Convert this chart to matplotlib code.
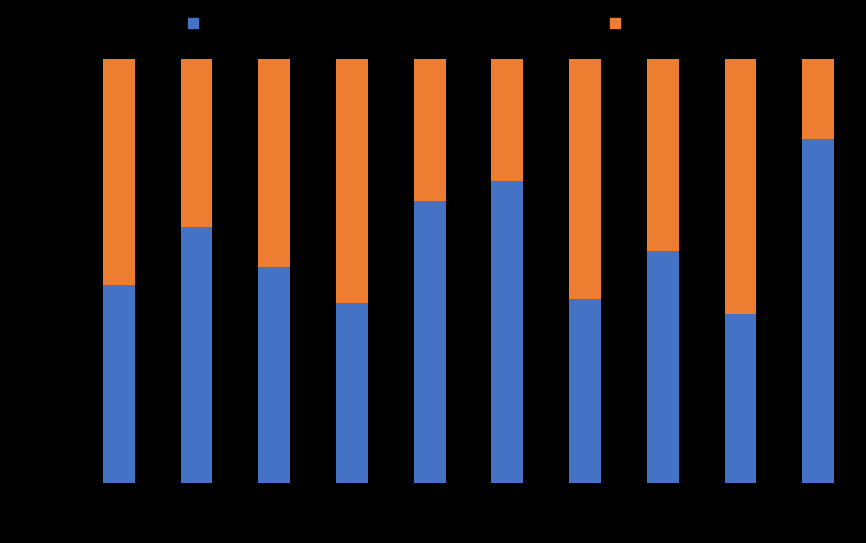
import numpy as np
import matplotlib.pyplot as plt
from matplotlib.patches import Patch
from matplotlib.ticker import PercentFormatter

# values (share of each bar, in %)
categories = ["1", "2", "3", "4", "5", "6", "7", "8", "9", "10"]
series_a = [46.7, 60.4, 50.9, 42.5, 66.5, 71.2, 43.4, 54.7, 39.9, 81.1]
series_b = [100 - v for v in series_a]
series_names = ["Series 1", "Series 2"]

blue = "#4472C4"
orange = "#ED7D31"

fig = plt.figure(figsize=(8.66, 5.43), dpi=100, facecolor="black")
ax = fig.add_axes([80 / 866, 60 / 543, 777 / 866, 424 / 543])
ax.set_facecolor("black")

x = np.arange(len(categories))
ax.bar(x, series_a, width=0.41, color=blue)
ax.bar(x, series_b, width=0.41, bottom=series_a, color=orange)

ax.set_xlim(-0.5, len(categories) - 0.5)
ax.set_ylim(0, 100)
ax.set_xticks(x)
ax.set_xticklabels(categories, color="black")
ax.yaxis.set_major_formatter(PercentFormatter())
ax.tick_params(colors="black", length=0)
for s in ax.spines.values():
    s.set_visible(False)

# legend across the top, text in black as in the original
leg1 = fig.legend(handles=[Patch(color=blue, label=series_names[0])],
                  loc="center left", bbox_to_anchor=(175 / 866, 1 - 23.5 / 543),
                  frameon=False, labelcolor="black", handlelength=0.75,
                  handleheight=0.75, handletextpad=0.5)
leg2 = fig.legend(handles=[Patch(color=orange, label=series_names[1])],
                  loc="center left", bbox_to_anchor=(597 / 866, 1 - 23.5 / 543),
                  frameon=False, labelcolor="black", handlelength=0.75,
                  handleheight=0.75, handletextpad=0.5)

plt.savefig("out.png", dpi=100, facecolor="black")
